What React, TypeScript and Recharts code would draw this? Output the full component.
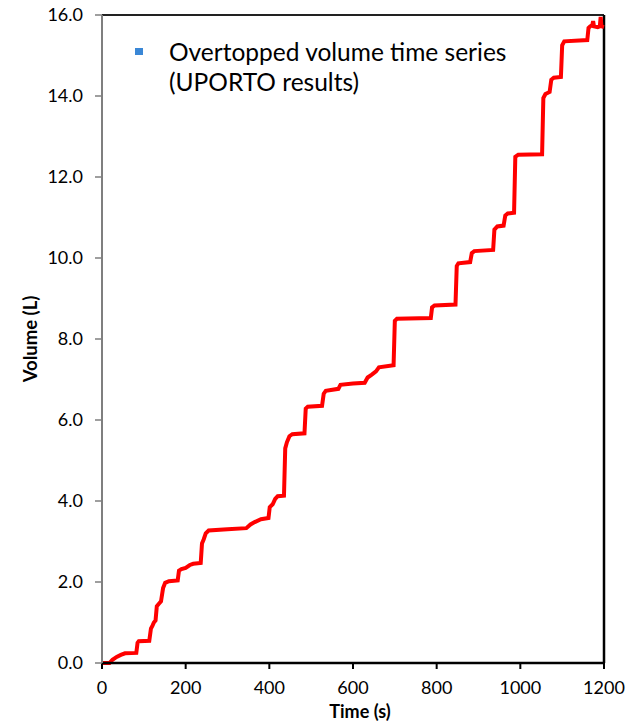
import React from "react";
import { LineChart, Line, XAxis, YAxis, ReferenceLine, Legend } from "recharts";

const times = [
  0, 18, 25, 35, 45, 55, 82, 85, 88, 113, 117, 121, 124, 128, 131, 135, 141, 146, 151, 160,
  181, 184, 190, 200, 210, 218, 236, 239, 243, 248, 255, 300, 345, 355, 365, 380, 398, 401,
  408, 414, 420, 435, 438, 442, 448, 455, 484, 487, 492, 526, 530, 535, 565, 570, 600, 628,
  635, 645, 655, 662, 697, 700, 705, 786, 789, 795, 845, 848, 852, 880, 884, 890, 935, 938,
  945, 960, 964, 970, 985, 988, 995, 1052, 1055, 1060, 1070, 1074, 1080, 1097, 1100, 1105,
  1160, 1163, 1167, 1172, 1174, 1176, 1185, 1190, 1192, 1194, 1200,
];
const volumes = [
  0, 0, 0.08, 0.15, 0.2, 0.24, 0.25, 0.5, 0.54, 0.55, 0.85, 0.93, 1.0, 1.05, 1.4, 1.45, 1.52,
  1.85, 1.98, 2.02, 2.04, 2.28, 2.32, 2.35, 2.42, 2.45, 2.47, 2.95, 3.05, 3.2, 3.27, 3.3, 3.33,
  3.42, 3.48, 3.55, 3.58, 3.85, 3.92, 4.05, 4.12, 4.13, 5.3, 5.45, 5.6, 5.65, 5.67, 6.28, 6.33,
  6.35, 6.65, 6.72, 6.77, 6.87, 6.9, 6.92, 7.05, 7.12, 7.2, 7.3, 7.35, 8.45, 8.5, 8.52, 8.78,
  8.83, 8.85, 9.8, 9.87, 9.9, 10.12, 10.17, 10.2, 10.7, 10.78, 10.8, 11.05, 11.1, 11.12, 12.5,
  12.55, 12.56, 13.95, 14.05, 14.1, 14.4, 14.45, 14.47, 15.25, 15.35, 15.38, 15.68, 15.72, 15.75,
  15.85, 15.72, 15.7, 15.72, 15.95, 15.72, 15.7,
];
const xTicks = [0, 200, 400, 600, 800, 1000, 1200];
const yTicks = [0, 2, 4, 6, 8, 10, 12, 14, 16];
const legendLines = ["Overtopped volume time series", "(UPORTO results)"];
const xTitle = "Time (s)";
const yTitle = "Volume (L)";

const data = times.map((t, i) => ({ t, v: volumes[i] }));

const FONT = "Lato, 'Open Sans', sans-serif";

const LegendContent = () => (
  <div style={{ position: "relative", fontFamily: FONT, fontSize: 24.5, lineHeight: "30px", color: "#000", textAlign: "left" }}>
    <div style={{ position: "absolute", left: 0, top: 11.5, width: 8, height: 7, background: "#3a87d6" }} />
    <div style={{ marginLeft: 34 }}>
      {legendLines.map((l) => (
        <div key={l}>{l}</div>
      ))}
    </div>
  </div>
);

export default function App() {
  return (
    <div style={{ position: "absolute", left: 0, top: 0, width: 640, height: 724, background: "#fff" }}>
      <LineChart
        width={640}
        height={724}
        data={data}
        margin={{ top: 15, right: 36, left: 0, bottom: 0 }}
      >
        <ReferenceLine y={16} stroke="#222" strokeWidth={2} ifOverflow="visible" />
        <ReferenceLine x={1200} stroke="#000" strokeWidth={2.5} ifOverflow="visible" />
        <XAxis
          dataKey="t"
          type="number"
          domain={[0, 1200]}
          ticks={xTicks}
          height={61}
          tickSize={6}
          tickMargin={12}
          axisLine={{ stroke: "#000", strokeWidth: 2.5 }}
          tickLine={{ stroke: "#000", strokeWidth: 2 }}
          tick={{ fill: "#000", fontSize: 18, fontFamily: FONT }}
          label={{
            content: () => (
              <text
                x={360}
                y={718}
                textAnchor="middle"
                style={{ fontFamily: FONT, fontSize: 18, fontWeight: 700, fill: "#000" }}
              >
                {xTitle}
              </text>
            ),
          }}
        />
        <YAxis
          dataKey="v"
          type="number"
          domain={[0, 16]}
          ticks={yTicks}
          width={102}
          tickSize={7}
          tickMargin={12}
          tickFormatter={(v: number) => v.toFixed(1)}
          axisLine={{ stroke: "#7f7f7f", strokeWidth: 2 }}
          tickLine={{ stroke: "#7f7f7f", strokeWidth: 1.5 }}
          tick={{ fill: "#000", fontSize: 18, fontFamily: FONT }}
          label={{
            content: () => (
              <text
                x={30}
                y={339}
                transform="rotate(-90 30 339)"
                textAnchor="middle"
                dominantBaseline="central"
                style={{ fontFamily: FONT, fontSize: 18.5, fontWeight: 700, fill: "#000" }}
              >
                {yTitle}
              </text>
            ),
          }}
        />
        <Legend
          verticalAlign="middle"
          align="center"
          layout="vertical"
          content={LegendContent}
          wrapperStyle={{ left: 135, top: 36.5, width: 440 }}
        />
        <Line
          type="linear"
          dataKey="v"
          stroke="#ff0000"
          strokeWidth={4}
          dot={false}
          isAnimationActive={false}
          legendType="square"
        />
      </LineChart>
    </div>
  );
}
